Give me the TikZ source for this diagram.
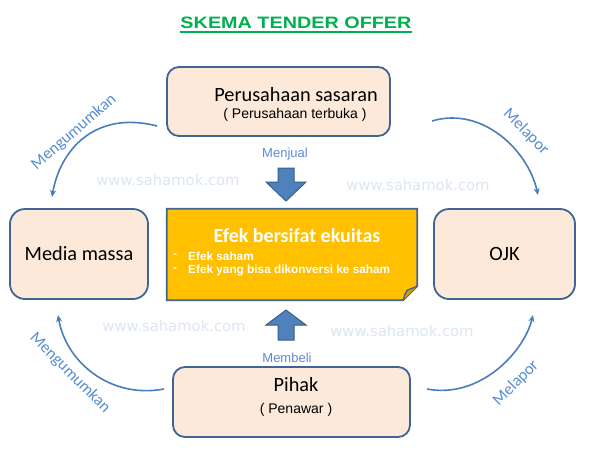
\documentclass[tikz,border=0pt]{standalone}
\usepackage{fontspec}
\setmainfont{Carlito}
\newfontfamily\arialf{Liberation Sans}
\newfontfamily\wmfont{DejaVu Sans}
\usetikzlibrary{arrows.meta}
\definecolor{boxfill}{HTML}{FDE9D9}
\definecolor{boxline}{HTML}{3E6593}
\definecolor{gold}{HTML}{FFC000}
\definecolor{golddark}{HTML}{CD9B00}
\definecolor{arrfill}{HTML}{4F81BD}
\definecolor{arrline}{HTML}{385D8A}
\definecolor{curve}{HTML}{4A7EBB}
\definecolor{lblblue}{HTML}{558ED5}
\definecolor{verbblue}{HTML}{5B8BD9}
\definecolor{wmark}{HTML}{DCE6F2}
\definecolor{titlegreen}{HTML}{00B050}
\tikzset{
  pbox/.style={draw=boxline, fill=boxfill, line width=1.8pt, rounded corners=12pt, inner sep=0pt},
  bigtxt/.style={font=\fontsize{20.3}{24}\selectfont, text=black, inner sep=0pt},
  subtxt/.style={font=\arialf\fontsize{14}{16}\selectfont, text=black, inner sep=0pt},
  curvearrow/.style={draw=curve, line width=1.6pt, -{Stealth[length=7pt,width=6pt]}},
  curvelbl/.style={font=\fontsize{16.5}{19}\selectfont, text=lblblue, inner sep=0pt},
  verb/.style={font=\arialf\fontsize{13}{15}\selectfont, text=verbblue, inner sep=0pt},
  wm/.style={font=\wmfont\fontsize{14.8}{17}\selectfont, text=wmark, inner sep=0pt},
  blockarrow/.style={fill=arrfill, draw=arrline, line width=1pt, line join=miter},
  bullet/.style={font=\arialf\bfseries\fontsize{11.8}{13}\selectfont, text=white, inner sep=0pt, anchor=west}
}
\begin{document}
\begin{tikzpicture}[x=1pt,y=-1pt]
\useasboundingbox (0,0) rectangle (591,451);
\fill[white] (0,0) rectangle (591,451);

% watermarks
\node[wm] (wm1) at (168,180) {www.sahamok.com};
\node[wm] (wm2) at (418,185) {www.sahamok.com};
\node[wm] (wm3) at (174,326) {www.sahamok.com};
\node[wm] (wm4) at (402,331) {www.sahamok.com};

% title
\node[font=\arialf\bfseries\fontsize{16.5}{20}\selectfont, text=titlegreen, inner sep=0pt] (title) at (296,23) {\scalebox{1.2}[1]{SKEMA TENDER OFFER}};
\draw[titlegreen, line width=1.3pt] (title.south west) ++(0,3) coordinate (ul1) -- (title.south east |- ul1);

% boxes
\node[pbox, minimum width=223pt, minimum height=69pt] (top) at (278.5,101.5) {};
\node[bigtxt] (toptxt) at (296,95) {Perusahaan sasaran};
\node[subtxt] (topsub) at (295,115) {( Perusahaan terbuka )};

\node[pbox, minimum width=138pt, minimum height=90pt, rounded corners=15pt] (media) at (79,254) {};
\node[bigtxt] (mediatxt) at (media.center) {Media massa};

\node[pbox, minimum width=141pt, minimum height=90pt, rounded corners=15pt] (ojk) at (504.5,254) {};
\node[bigtxt] (ojktxt) at (ojk.center) {OJK};

\node[pbox, minimum width=237pt, minimum height=70pt] (pihak) at (291.5,402) {};
\node[bigtxt] (pihaktxt) at (296,385) {Pihak};
\node[subtxt] (pihaksub) at (296,410) {( Penawar )};

% central folded note
\node[minimum width=250pt, minimum height=91pt, inner sep=0pt] (efek) at (292,254.5) {};
\draw[draw=boxline, fill=gold, line width=1.8pt, line join=miter]
  (efek.north west) -- (efek.north east) -- ([yshift=14pt]efek.south east)
  -- ([xshift=-14pt]efek.south east) -- (efek.south west) -- cycle;
\draw[draw=boxline, fill=golddark, line width=1.3pt, line join=round]
  ([yshift=14pt]efek.south east) -- ([xshift=-10pt,yshift=10pt]efek.south east)
  .. controls ([xshift=-12pt,yshift=7pt]efek.south east) .. ([xshift=-14pt]efek.south east);
\node[font=\bfseries\fontsize{20}{24}\selectfont, text=white, inner sep=0pt] (efektitle) at (297,236) {Efek bersifat ekuitas};
\node[bullet] (b1d) at (173,256) {-};
\node[bullet] (b1) at (188,256) {Efek saham};
\node[bullet] (b2d) at (173,270) {-};
\node[bullet] (b2) at (188,270) {Efek yang bisa dikonversi ke saham};

% block arrows
\node[verb] (menjual) at (285,154) {Menjual};
\coordinate (da) at (286,168);
\path[blockarrow] ([xshift=-8pt]da) -- ([xshift=8pt]da) -- ([xshift=8pt,yshift=-14pt]da)
  -- ([xshift=20pt,yshift=-14pt]da) -- ([yshift=-33pt]da) -- ([xshift=-20pt,yshift=-14pt]da)
  -- ([xshift=-8pt,yshift=-14pt]da) -- cycle;
\node[verb] (membeli) at (287,358) {Membeli};
\coordinate (ua) at (286,340);
\path[blockarrow] ([xshift=-8pt]ua) -- ([xshift=8pt]ua) -- ([xshift=8pt,yshift=15pt]ua)
  -- ([xshift=20pt,yshift=15pt]ua) -- ([yshift=30pt]ua) -- ([xshift=-20pt,yshift=15pt]ua)
  -- ([xshift=-8pt,yshift=15pt]ua) -- cycle;

% curved arrows
\coordinate (tl1) at (157,126); \coordinate (tl2) at (52,197);
\coordinate (tr1) at (432,121); \coordinate (tr2) at (538,195);
\coordinate (bl1) at (164,389); \coordinate (bl2) at (58,315);
\coordinate (br1) at (427,389); \coordinate (br2) at (533,315);
\draw[curvearrow] (tl1) .. controls (95,110) and (60,150) .. (tl2);
\draw[curvearrow] (tr1) .. controls (482,106) and (528,150) .. (tr2);
\draw[curvearrow] (bl1) .. controls (110,399) and (66,362) .. (bl2);
\draw[curvearrow] (br1) .. controls (480,399) and (524,352) .. (br2);

\node[curvelbl, rotate=41] (l1) at (74,132) {Mengumumkan};
\node[curvelbl, rotate=-45] (l2) at (526,132) {Melapor};
\node[curvelbl, rotate=-45] (l3) at (70,373) {Mengumumkan};
\node[curvelbl, rotate=45] (l4) at (516,383) {Melapor};
\end{tikzpicture}
\end{document}
